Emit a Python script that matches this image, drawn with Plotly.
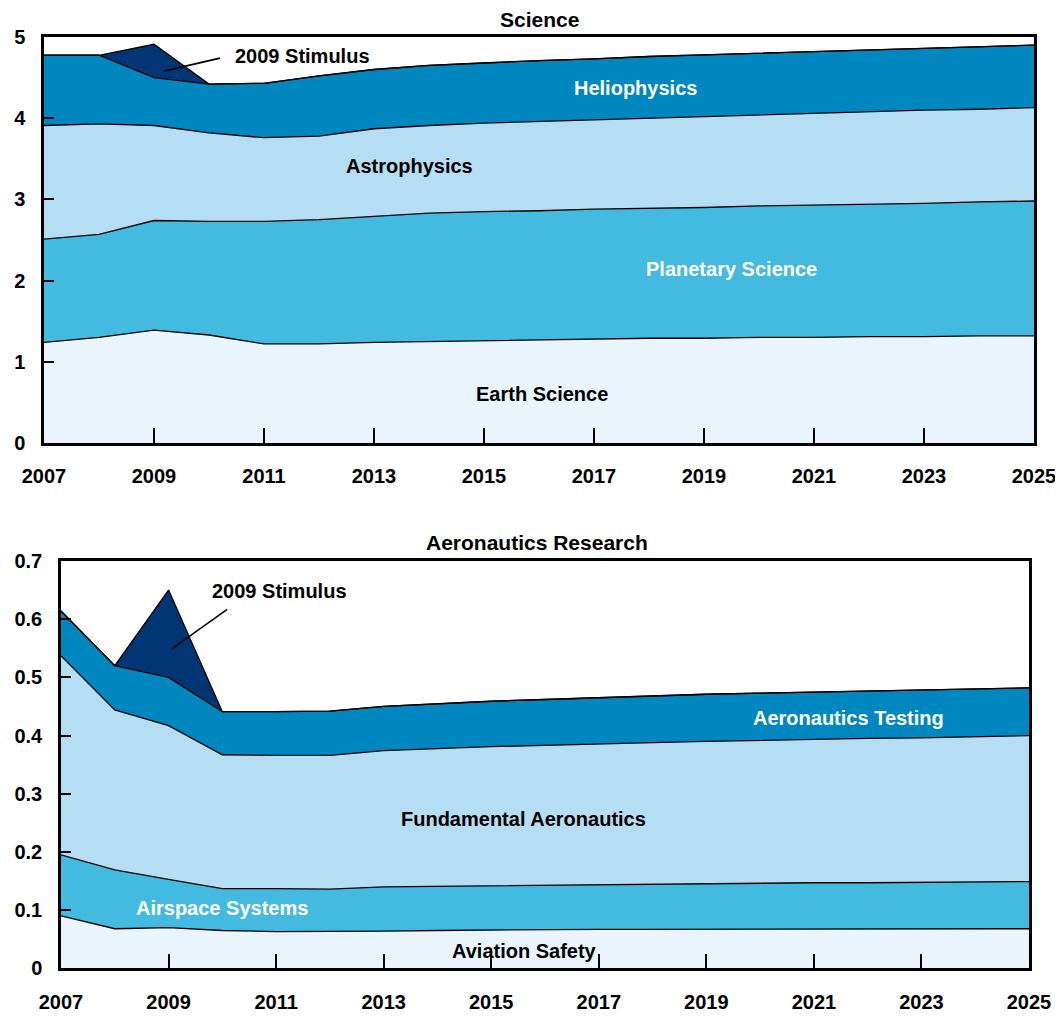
import plotly.graph_objects as go

years = list(range(2007, 2026))
tick_years = list(range(2007, 2026, 2))

# Science (billions), stacked from bottom
earth_science = [1.24, 1.30, 1.39, 1.33, 1.22, 1.22, 1.24, 1.25, 1.26, 1.27, 1.28, 1.29, 1.29, 1.30, 1.30, 1.31, 1.31, 1.32, 1.32]
planetary_science = [1.27, 1.27, 1.35, 1.40, 1.51, 1.53, 1.55, 1.58, 1.59, 1.59, 1.60, 1.60, 1.61, 1.62, 1.63, 1.63, 1.64, 1.65, 1.66]
astrophysics = [1.40, 1.36, 1.17, 1.09, 1.03, 1.03, 1.08, 1.08, 1.09, 1.10, 1.10, 1.11, 1.12, 1.12, 1.13, 1.14, 1.15, 1.14, 1.15]
heliophysics = [0.865, 0.845, 0.59, 0.60, 0.67, 0.74, 0.73, 0.74, 0.74, 0.75, 0.75, 0.76, 0.76, 0.76, 0.76, 0.76, 0.76, 0.77, 0.77]
science_stimulus = [0, 0, 0.41, 0] + [0] * 15

# Aeronautics Research (billions), stacked from bottom
aviation_safety = [0.090, 0.068, 0.070, 0.065, 0.063, 0.063, 0.064, 0.065, 0.066, 0.066, 0.067, 0.067, 0.067, 0.067, 0.067, 0.067, 0.068, 0.068, 0.068]
airspace_systems = [0.105, 0.101, 0.083, 0.072, 0.074, 0.073, 0.076, 0.076, 0.076, 0.077, 0.077, 0.078, 0.079, 0.079, 0.080, 0.080, 0.080, 0.080, 0.081]
fundamental_aero = [0.342, 0.275, 0.264, 0.230, 0.229, 0.230, 0.234, 0.237, 0.239, 0.240, 0.242, 0.243, 0.244, 0.246, 0.246, 0.248, 0.248, 0.250, 0.251]
aero_testing = [0.077, 0.076, 0.083, 0.074, 0.075, 0.076, 0.076, 0.077, 0.078, 0.079, 0.079, 0.081, 0.081, 0.081, 0.082, 0.081, 0.082, 0.082, 0.082]
aero_stimulus = [0, 0, 0.15, 0] + [0] * 15

C_LIGHT = "#EAF4FD"
C_MID = "#43BAE0"
C_PALE = "#B5DEF4"
C_DARK = "#0087BF"
C_NAVY = "#003673"

FONT = "Liberation Sans"

# page body margin offsets the figure by 8px; size the figure to fill the rest of the window
OFF = 8
W, H = 1063 - OFF, 1016 - OFF
def px(x):
    return (x - OFF) / W
def py(y):
    return 1 - (y - OFF) / H

fig = go.Figure()

def add_stack(ys, color, xa, ya, group):
    fig.add_trace(go.Scatter(
        x=years, y=ys, mode="lines", stackgroup=group,
        line=dict(color="black", width=1.3), fillcolor=color,
        xaxis=xa, yaxis=ya, hoverinfo="skip", showlegend=False))

for ys, c in [(earth_science, C_LIGHT), (planetary_science, C_MID), (astrophysics, C_PALE),
              (heliophysics, C_DARK), (science_stimulus, C_NAVY)]:
    add_stack(ys, c, "x", "y", "sci")

for ys, c in [(aviation_safety, C_LIGHT), (airspace_systems, C_MID), (fundamental_aero, C_PALE),
              (aero_testing, C_DARK), (aero_stimulus, C_NAVY)]:
    add_stack(ys, c, "x2", "y2", "aero")

tickfont = dict(family=FONT, size=20, color="black", weight="bold")
axis_common = dict(showline=True, mirror=True, linecolor="black", linewidth=2.5,
                   showgrid=False, zeroline=False, ticks="inside", tickcolor="black",
                   tickwidth=1.5, tickfont=tickfont, automargin=False)

fig.update_layout(
    width=W, height=H, margin=dict(l=0, r=0, t=0, b=0, autoexpand=False),
    paper_bgcolor="white", plot_bgcolor="white",
    xaxis=dict(domain=[px(44), px(1034)], range=[2007, 2025], tickvals=tick_years,
               ticklen=15, ticklabelstandoff=13, anchor="y", **axis_common),
    yaxis=dict(domain=[py(443), py(37)], range=[0, 5], tickvals=[0, 1, 2, 3, 4, 5],
               ticklen=10, ticklabelstandoff=12, anchor="x", **axis_common),
    xaxis2=dict(domain=[px(61), px(1029)], range=[2007, 2025], tickvals=tick_years,
                ticklen=15, ticklabelstandoff=14, anchor="y2", **axis_common),
    yaxis2=dict(domain=[py(968.3), py(561)], range=[0, 0.7],
                tickvals=[0, 0.1, 0.2, 0.3, 0.4, 0.5, 0.6, 0.7],
                ticktext=["0", "0.1", "0.2", "0.3", "0.4", "0.5", "0.6", "0.7"],
                ticklen=10, ticklabelstandoff=12, anchor="x2", **axis_common),
)

def label(text, x, y, color, xref, yref, size=20):
    fig.add_annotation(text=text, x=x, y=y, xref=xref, yref=yref, showarrow=False,
                       font=dict(family=FONT, size=size, color=color, weight="bold"),
                       xanchor="center", yanchor="middle")

# titles
label("Science", px(539), py(20), "black", "paper", "paper", size=21)
label("Aeronautics Research", px(537), py(542), "black", "paper", "paper", size=21)

# top chart labels
label("2009 Stimulus", 2011.7, 4.76, "black", "x", "y")
label("Heliophysics", 2017.75, 4.37, "white", "x", "y")
label("Astrophysics", 2013.65, 3.41, "black", "x", "y")
label("Planetary Science", 2019.5, 2.14, "white", "x", "y")
label("Earth Science", 2016.05, 0.6, "black", "x", "y")
fig.add_shape(type="line", x0=2009.18, y0=4.58, x1=2010.2, y1=4.74, xref="x", yref="y",
              line=dict(color="black", width=2))

# bottom chart labels
label("2009 Stimulus", 2011.07, 0.649, "black", "x2", "y2")
label("Aeronautics Testing", 2021.65, 0.430, "white", "x2", "y2")
label("Fundamental Aeronautics", 2015.6, 0.256, "black", "x2", "y2")
label("Airspace Systems", 2010.0, 0.104, "white", "x2", "y2")
label("Aviation Safety", 2015.62, 0.030, "black", "x2", "y2")
fig.add_shape(type="line", x0=2009.06, y0=0.549, x1=2010.09, y1=0.617, xref="x2", yref="y2",
              line=dict(color="black", width=1.5))

fig.write_html("out.html")
